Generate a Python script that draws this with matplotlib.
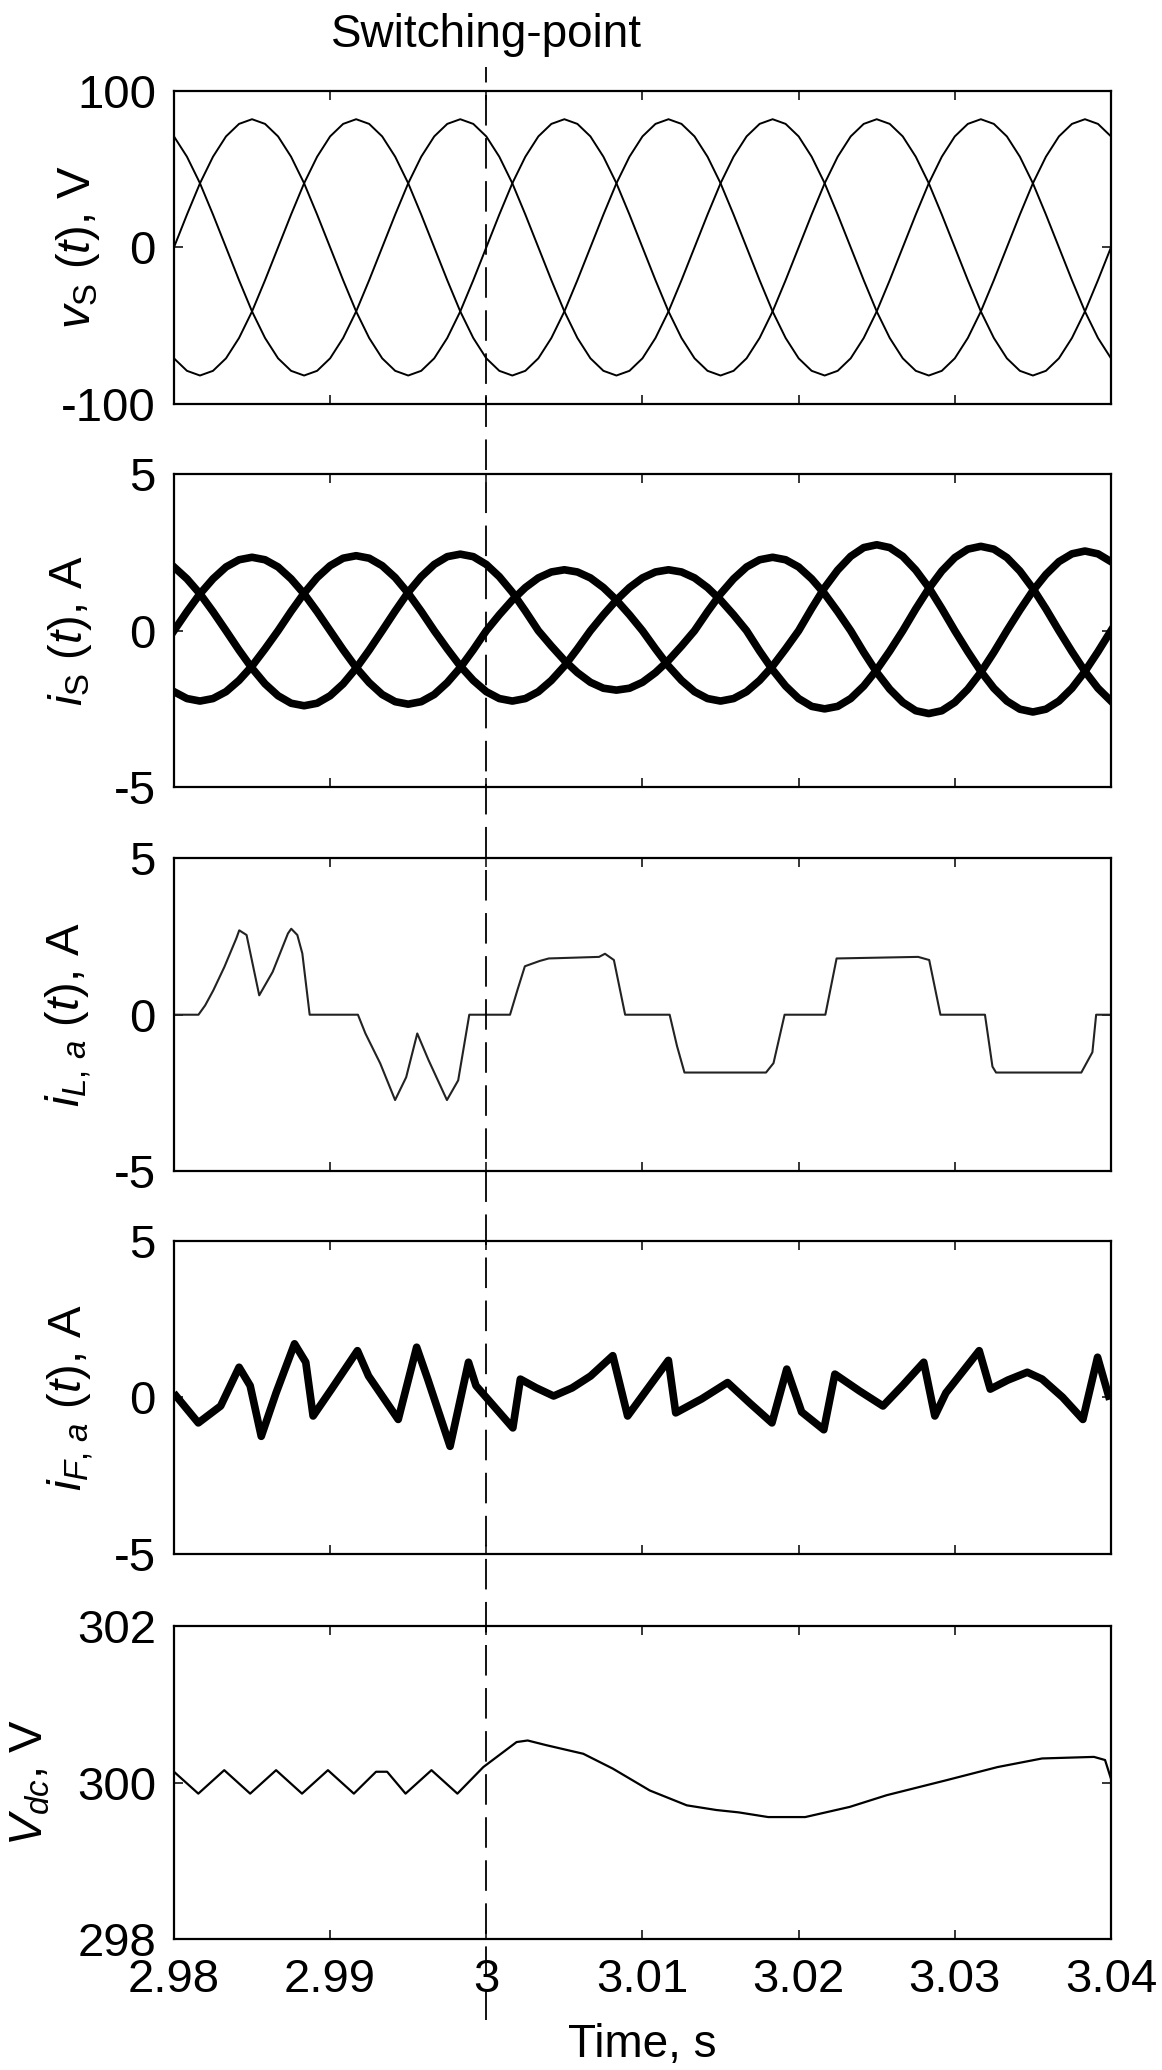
import matplotlib
matplotlib.use('Agg')
import matplotlib.pyplot as plt
from matplotlib import font_manager
from matplotlib.lines import Line2D
from matplotlib.transforms import blended_transform_factory
import numpy as np


def has_font(name):
    try:
        path = font_manager.findfont(font_manager.FontProperties(family=name),
                                     fallback_to_default=False)
        return 'Narrow' in path or 'narrow' in path
    except ValueError:
        return False


# condensed look of the original (MATLAB screen fonts)
if has_font('Liberation Sans Narrow'):
    tick_font, tick_size = 'Liberation Sans Narrow', 37
else:
    tick_font, tick_size = 'Liberation Sans', 34
text_font, text_size = 'Liberation Sans', 33

plt.rcParams['font.family'] = [tick_font, 'DejaVu Sans']
plt.rcParams['axes.unicode_minus'] = False
plt.rcParams['mathtext.fontset'] = 'custom'
plt.rcParams['mathtext.rm'] = tick_font
plt.rcParams['mathtext.it'] = tick_font + ':italic'
plt.rcParams['mathtext.bf'] = tick_font + ':bold'
plt.rcParams['lines.scale_dashes'] = False

# ---- data ----
t0 = 2.98
t_end = 3.04
t_switch = 3.00
xticks = [2.98, 2.99, 3.00, 3.01, 3.02, 3.03, 3.04]
xticklabels = ['2.98', '2.99', '3', '3.01', '3.02', '3.03', '3.04']

# source voltages, one 50 Hz cycle read every 15 deg (0.833 ms), 3 identical cycles shown
va_cycle = [0, 21, 41, 58, 71, 79, 82, 79, 71, 58, 41, 21, 0, -21, -41, -58, -71, -79, -82, -79, -71, -58, -41, -21]
vb_cycle = [71, 58, 41, 21, 0, -21, -41, -58, -71, -79, -82, -79, -71, -58, -41, -21, 0, 21, 41, 58, 71, 79, 82, 79]
vc_cycle = [-71, -79, -82, -79, -71, -58, -41, -21, 0, 21, 41, 58, 71, 79, 82, 79, 71, 58, 41, 21, 0, -21, -41, -58]
va = va_cycle * 3 + va_cycle[:1]
vb = vb_cycle * 3 + vb_cycle[:1]
vc = vc_cycle * 3 + vc_cycle[:1]

# source currents, read every 0.833 ms
isa = [0, .61, 1.18, 1.66, 2.04, 2.27, 2.35, 2.27, 2.04, 1.66, 1.18, .61, 0,
       -.61, -1.18, -1.66, -2.04, -2.27, -2.35, -2.27, -2.04, -1.66, -1.18, -.61, 0,
       .51, .98, 1.38, 1.69, 1.88, 1.95, 1.88, 1.69, 1.38, .98, .51, 0,
       -.58, -1.13, -1.59, -1.95, -2.17, -2.25, -2.17, -1.95, -1.59, -1.13, -.58, 0,
       .71, 1.38, 1.94, 2.38, 2.66, 2.75, 2.66, 2.38, 1.94, 1.38, .71, 0,
       -.67, -1.3, -1.84, -2.25, -2.51, -2.6, -2.51, -2.25, -1.84, -1.3, -.67, 0]
isb = [2.04, 1.66, 1.18, .61, 0,
       -.62, -1.2, -1.70, -2.08, -2.32, -2.4, -2.32, -2.08, -1.70, -1.2, -.62, 0,
       .63, 1.23, 1.73, 2.12, 2.37, 2.45, 2.37, 2.12, 1.73, 1.23, .63, 0,
       -.49, -.95, -1.34, -1.65, -1.84, -1.9, -1.84, -1.65, -1.34, -.95, -.49, 0,
       .61, 1.18, 1.66, 2.04, 2.27, 2.35, 2.27, 2.04, 1.66, 1.18, .61, 0,
       -.69, -1.33, -1.87, -2.29, -2.56, -2.65, -2.56, -2.29, -1.87, -1.33, -.69, 0,
       .66, 1.28, 1.80, 2.21, 2.46, 2.55, 2.46, 2.21]
isc = [-1.95, -2.17, -2.25, -2.17, -1.95, -1.59, -1.13, -.58, 0,
       .62, 1.2, 1.70, 2.08, 2.32, 2.4, 2.32, 2.08, 1.70, 1.2, .62, 0,
       -.58, -1.13, -1.59, -1.95, -2.17, -2.25, -2.17, -1.95, -1.59, -1.13, -.58, 0,
       .51, .98, 1.38, 1.69, 1.88, 1.95, 1.88, 1.69, 1.38, .98, .51, 0,
       -.65, -1.25, -1.77, -2.17, -2.42, -2.5, -2.42, -2.17, -1.77, -1.25, -.65, 0,
       .70, 1.35, 1.91, 2.34, 2.61, 2.7, 2.61, 2.34, 1.91, 1.35, .70, 0,
       -.67, -1.3, -1.84, -2.25]
step_ms = 20.0 / 24

# load current phase a (ms after 2.98 s, A)
il_ms = [0.0, 1.57, 2.0, 2.52, 3.23, 4.0, 4.18, 4.65, 5.46, 6.32, 7.3, 7.51, 7.9, 8.22, 8.69, 11.78,
         12.26, 13.21, 14.16, 14.87, 15.58, 16.30, 17.48, 18.20, 18.91, 21.52, 22.0, 22.47, 23.42,
         24.0, 27.22, 27.6, 28.17, 28.89, 31.74, 32.21, 32.69, 37.91, 38.39, 39.10, 41.71, 42.43,
         47.65, 48.36, 49.08, 51.93, 52.41, 52.64, 58.10, 58.81, 59.05, 60.0]
il_a = [0.0, 0.0, 0.3, 0.78, 1.53, 2.45, 2.70, 2.55, 0.62, 1.37, 2.6, 2.75, 2.55, 1.96, 0.0, 0.0,
        -0.6, -1.56, -2.73, -2.0, -0.6, -1.45, -2.73, -2.1, 0.0, 0.0, 0.8, 1.55, 1.72,
        1.8, 1.85, 1.95, 1.75, 0.0, 0.0, -1.0, -1.85, -1.85, -1.55, 0.0, 0.0, 1.8,
        1.85, 1.75, 0.0, 0.0, -1.66, -1.85, -1.85, -1.2, 0.0, 0.0]

# filter current phase a (ms, A)
if_ms = [0.14, 1.56, 2.99, 4.17, 4.88, 5.59, 6.54, 7.72, 8.44, 8.91, 10.09, 11.75, 12.46,
         14.36, 15.54, 16.25, 17.68, 18.86, 19.34, 21.70, 22.18, 23.2, 24.31, 25.5, 26.68, 28.10,
         29.05, 30.47, 31.66, 32.13, 33.8, 35.45, 36.9, 38.29, 39.24, 40.19, 41.61, 42.32, 43.9,
         45.40, 46.7, 48.01, 48.72, 49.43, 51.56, 52.27, 53.4, 54.64, 55.59, 56.9, 58.20, 59.14,
         59.85]
if_a = [0.04, -0.82, -0.28, 0.96, 0.37, -1.25, 0.14, 1.71, 1.12, -0.6, 0.26, 1.49, 0.68,
        -0.71, 1.6, 0.58, -1.57, 1.12, 0.37, -0.98, 0.58, 0.3, 0.04, 0.3, 0.68, 1.33,
        -0.6, 0.37, 1.18, -0.5, -0.05, 0.47, -0.2, -0.82, 0.9, -0.47, -1.04, 0.74, 0.2,
        -0.28, 0.4, 1.12, -0.6, 0.14, 1.49, 0.26, 0.55, 0.8, 0.58, 0.0, -0.71, 1.28,
        0.04]

# dc link voltage (ms, V)
vdc_ms = [0.0, 1.56, 3.22, 4.88, 6.54, 8.20, 9.86, 11.52, 12.94, 13.65, 14.83, 16.49, 18.15,
          19.81, 21.94, 22.65, 23.84, 26.21, 28.10, 30.47, 32.84, 34.74, 36.16, 38.05, 40.42,
          43.27, 45.64, 49.43, 52.74, 55.59, 58.91, 59.62, 60.0]
vdc = [300.14, 299.86, 300.16, 299.86, 300.16, 299.86, 300.16, 299.86, 300.14, 300.14, 299.86,
       300.16, 299.86, 300.20, 300.52, 300.54, 300.48, 300.37, 300.18, 299.90, 299.71, 299.65,
       299.62, 299.56, 299.56, 299.69, 299.84, 300.03, 300.20, 300.31, 300.33, 300.29, 300.05]

# ---- figure ----
W, H = 1162, 2070
fig = plt.figure(figsize=(W / 100, H / 100), dpi=100)

left, width, height = 0.1497, 0.8064, 0.151
bottoms = [0.8050, 0.6198, 0.4343, 0.2495, 0.0633]
ylims = [(-100, 100), (-5, 5), (-5, 5), (-5, 5), (298, 302)]
yticks = [[-100, 0, 100], [-5, 0, 5], [-5, 0, 5], [-5, 0, 5], [298, 300, 302]]
ylabels = [r'$v_\mathrm{S}\ (t)$, V', r'$i_\mathrm{S}\ (t)$, A', r'$i_{L,\,a}\ (t)$, A',
           r'$i_{F,\,a}\ (t)$, A', r'$V_{dc}$, V']
label_x = [-0.090, -0.098, -0.100, -0.098, -0.140]

axes = []
for i in range(5):
    ax = fig.add_axes([left, bottoms[i], width, height])
    ax.set_xlim(t0, t_end)
    ax.set_ylim(*ylims[i])
    ax.set_xticks(xticks)
    ax.set_yticks(yticks[i])
    ax.set_yticklabels([str(v) for v in yticks[i]])
    if i == 4:
        ax.set_xticklabels(xticklabels)
    else:
        ax.set_xticklabels([])
    ax.tick_params(direction='in', length=6.5, width=1.1, top=True, right=True,
                   labelsize=tick_size, pad=13)
    ax.tick_params(axis='x', pad=14)
    for s in ax.spines.values():
        s.set_linewidth(1.6)
    ax.set_ylabel(ylabels[i], fontsize=tick_size, va='baseline')
    ax.yaxis.set_label_coords(label_x[i], 0.5)
    axes.append(ax)

t_grid = t0 + np.arange(len(va)) * step_ms / 1000.0
ax = axes[0]
for v in (va, vb, vc):
    ax.plot(t_grid, v, color='black', lw=1.4)

ax = axes[1]
for cur in (isa, isb, isc):
    ax.plot(t_grid, cur, color='black', lw=5.5, solid_joinstyle='round')

ax = axes[2]
ax.plot(t0 + np.array(il_ms) / 1000.0, il_a, color='#222222', lw=1.5)

ax = axes[3]
ax.plot(t0 + np.array(if_ms) / 1000.0, if_a, color='black', lw=5.5, solid_joinstyle='round')

ax = axes[4]
ax.plot(t0 + np.array(vdc_ms) / 1000.0, vdc, color='black', lw=1.6)

# switching-point marker spanning the whole figure
trans = blended_transform_factory(axes[4].transData, fig.transFigure)
fig.add_artist(Line2D([t_switch, t_switch], [0.0242, 0.9676], transform=trans,
                      color='black', lw=1.3, linestyle=(0, (22, 9))))
fig.text(t_switch, 0.9773, 'Switching-point', transform=trans, ha='center', va='baseline',
         family=text_font, fontsize=text_size)
fig.text(left + width / 2, 0.0063, 'Time, s', ha='center', va='baseline',
         family=text_font, fontsize=text_size)

plt.savefig('out.png', dpi=100)
plt.close('all')
